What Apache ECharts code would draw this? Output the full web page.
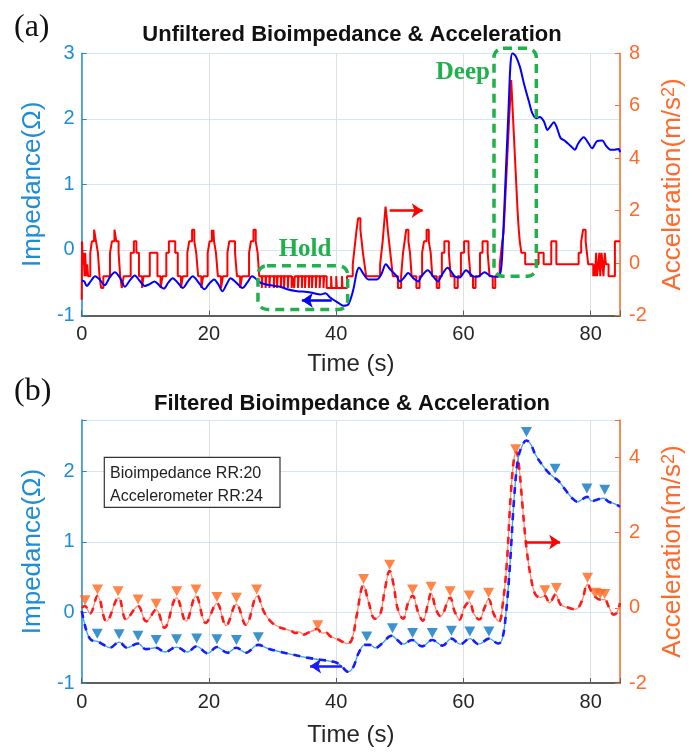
<!DOCTYPE html>
<html>
<head>
<meta charset="utf-8">
<script src="https://cdn.jsdelivr.net/npm/echarts/dist/echarts.min.js"></script>
<style>
  html, body { margin: 0; padding: 0; background: #fff; }
  #main { width: 694px; height: 753px; }
</style>
</head>
<body>
<div id="main"></div>
<script>
// (a) raw signals, [time s, value]
const bioRaw = [
  [0,-0.47],[0.4,-0.48],[0.8,-0.55],[1.4,-0.48],[2.1,-0.40],[2.9,-0.46],[3.6,-0.54],[4.4,-0.42],[5.2,-0.34],
  [6.0,-0.42],[6.8,-0.56],[7.6,-0.46],[8.35,-0.39],[9.1,-0.47],[9.9,-0.55],[10.7,-0.52],[11.45,-0.48],
  [12.2,-0.54],[12.9,-0.59],[13.6,-0.5],[14.3,-0.43],[15.1,-0.5],[15.9,-0.58],[16.7,-0.48],[17.45,-0.40],
  [18.4,-0.5],[19.3,-0.60],[20.0,-0.52],[20.8,-0.45],[21.5,-0.53],[22.1,-0.63],[22.8,-0.52],[23.4,-0.43],
  [24.3,-0.5],[25.3,-0.58],[26.0,-0.5],[26.8,-0.40],[27.5,-0.45],[28.1,-0.50],[29.7,-0.54],[31.2,-0.56],
  [32.3,-0.60],[33.85,-0.63],[35.4,-0.64],[36.5,-0.66],[37.5,-0.68],[38.3,-0.66],[39.1,-0.73],[40.4,-0.81],
  [41.1,-0.85],[41.9,-0.83],[42.7,-0.60],[43.2,-0.35],[43.6,-0.27],[44.3,-0.37],[45.05,-0.45],[46.4,-0.45],
  [47.1,-0.37],[47.8,-0.22],[48.5,-0.30],[49.5,-0.40],[50.0,-0.48],[50.6,-0.43],[51.3,-0.35],[52.1,-0.43],
  [52.9,-0.48],[53.4,-0.40],[54.4,-0.31],[55.2,-0.40],[56.0,-0.48],[56.5,-0.40],[57.5,-0.27],[58.6,-0.40],
  [59.4,-0.42],[60.4,-0.31],[61.45,-0.40],[62.2,-0.41],[63.3,-0.34],[64.3,-0.40],[65.4,-0.41],[65.9,-0.30],
  [66.2,0.16],[66.65,1.17],[67.1,2.19],[67.4,2.85],[67.7,3.0],[68.2,2.96],[68.85,2.8],[69.5,2.54],[70.3,2.26],
  [70.8,2.09],[71.45,2.01],[72.0,2.03],[72.65,1.96],[73.2,1.83],[73.7,1.89],[74.2,1.95],[74.7,1.86],
  [75.25,1.71],[76.0,1.66],[76.8,1.59],[77.5,1.53],[78.0,1.62],[78.9,1.72],[79.7,1.62],[80.2,1.55],
  [81.0,1.66],[81.8,1.67],[82.4,1.59],[83.1,1.53],[83.8,1.53],[84.4,1.54],[84.6,1.49]
];
// accelerometer is quantised: each point = time where the level changes
const accRaw = [
  [0,-1.4],[0.05,0.83],[0.2,-0.05],[0.3,0.39],[0.45,-0.5],[0.55,0.39],[0.7,-0.5],[0.85,-0.05],[1.0,-0.5],
  [1.35,0.39],[1.6,0.83],[1.95,1.27],[2.25,0.83],[2.55,0.39],[2.8,-0.5],[3.05,-0.95],[3.4,-0.5],
  [4.45,0.39],[4.75,0.83],[5.15,1.27],[5.45,0.83],[5.8,0.39],[6.05,-0.5],[6.3,-0.95],[6.6,-0.5],
  [7.7,0.39],[8.2,0.83],[8.6,0.39],[9.0,-0.5],[9.5,-0.95],[9.7,-0.5],
  [10.7,0.39],[11.9,-0.5],[12.4,-0.95],[12.7,-0.5],
  [13.3,0.39],[13.7,0.83],[14.7,0.39],[15.1,-0.5],[15.6,-0.95],[15.9,-0.5],
  [16.6,0.39],[16.9,0.83],[17.35,1.27],[17.7,0.83],[18.0,0.39],[18.3,-0.5],[18.8,-0.95],[19.1,-0.5],
  [19.8,0.39],[20.1,0.83],[20.45,1.27],[20.55,0.83],[20.7,1.27],[20.8,0.83],[21.1,0.39],[21.4,-0.5],[21.9,-0.95],[22.2,-0.5],
  [22.9,0.39],[23.2,0.83],[24.1,0.39],[24.4,-0.5],[24.9,-0.95],[25.2,-0.5],
  [26.3,0.39],[26.6,0.83],[27.0,1.27],[27.35,0.83],[27.65,0.39],[27.9,-0.5],
  [28.3,-0.95],[28.4,-0.5],[28.9,-0.95],[29.0,-0.5],[29.5,-0.95],[29.6,-0.5],[30.2,-0.95],[30.3,-0.5],
  [30.7,-0.95],[30.8,-0.5],[31.3,-0.95],[31.4,-0.5],[31.8,-0.95],[31.9,-0.5],[32.4,-0.95],[32.5,-0.5],
  [33.0,-0.95],[33.1,-0.5],[33.4,-0.95],[33.5,-0.5],[34.0,-0.95],[34.1,-0.5],[34.6,-0.95],[34.7,-0.5],
  [35.1,-0.95],[35.2,-0.5],[35.7,-0.95],[35.8,-0.5],[36.2,-0.95],[36.3,-0.5],[36.8,-0.95],[36.9,-0.5],
  [37.4,-0.95],[37.5,-0.5],[38.0,-0.95],[38.1,-0.5],[38.5,-0.95],[39.2,-0.5],[39.3,-0.95],[40.0,-0.5],
  [40.1,-0.95],[40.9,-0.5],[41.0,-0.95],[41.7,-0.5],
  [42.6,-0.05],[42.8,0.39],[43.0,0.83],[43.2,1.27],[43.45,1.71],[43.8,1.27],[44.0,0.83],[44.2,0.39],[44.45,-0.05],[44.7,-0.5],
  [46.9,-0.05],[47.1,0.39],[47.3,0.83],[47.45,1.27],[47.6,1.71],[47.75,2.15],[47.95,1.71],[48.1,1.27],[48.3,0.83],[48.5,0.39],[48.7,-0.05],[48.9,-0.5],
  [49.7,-0.95],[50.2,-0.5],[50.5,0.39],[50.75,0.83],[51.0,1.27],[51.35,0.83],[51.6,0.39],[51.85,-0.5],
  [52.6,-0.95],[53.1,-0.5],[53.5,0.39],[53.8,0.83],[54.2,1.27],[54.55,0.83],[54.85,0.39],[55.1,-0.5],
  [55.8,-0.95],[56.2,-0.5],[56.6,0.39],[57.0,0.83],[57.7,0.39],[58.0,-0.5],
  [58.6,-0.95],[59.1,-0.5],[59.6,0.39],[60.1,0.83],[60.8,0.39],[61.1,-0.5],
  [61.5,-0.95],[61.9,-0.5],[62.6,0.39],[63.0,0.83],[63.8,0.39],[64.1,-0.5],
  [64.6,-0.95],[65.0,-0.5],
  // deep breath, sampled densely
  [65.7,-0.05],[65.9,0.39],[66.1,0.83],[66.3,1.15],[66.4,1.6],[66.5,2.1],[66.6,2.6],[66.7,3.1],[66.8,3.6],
  [66.9,4.1],[67.0,4.6],[67.1,5.1],[67.2,5.6],[67.3,6.05],[67.4,6.5],[67.5,6.98],[67.6,6.5],[67.7,6.0],
  [67.8,5.5],[67.9,5.0],[68.0,4.5],[68.1,4.0],[68.2,3.5],[68.3,3.0],[68.4,2.5],[68.5,2.0],[68.6,1.6],
  [68.7,1.25],[68.85,0.83],[69.1,0.39],[69.7,-0.05],
  [71.8,0.39],[72.6,-0.05],[73.8,0.83],[74.6,-0.05],
  [78.1,0.39],[78.5,0.83],[78.8,1.27],[79.2,0.83],[79.4,0.39],[79.6,-0.05],
  [80.4,-0.5],[80.55,-0.05],[80.7,-0.5],[80.85,0.39],[81.0,-0.5],[81.2,-0.05],[81.35,0.39],[81.5,-0.5],
  [81.7,0.39],[81.85,-0.05],[82.0,-0.5],[82.2,0.39],[82.4,-0.05],[82.8,-0.5],[83.8,0.83],[84.6,0.83]
];
// (b) filtered signals
const bioFilt = [
  [0,0.02],[0.4,-0.14],[0.9,-0.30],[1.5,-0.39],[2.45,-0.41],[3.3,-0.45],[4.4,-0.50],[5.9,-0.42],[7.1,-0.50],
  [8.85,-0.44],[10.1,-0.52],[11.7,-0.50],[13.1,-0.56],[14.9,-0.49],[16.6,-0.56],[18.05,-0.48],[19.8,-0.58],
  [21.25,-0.49],[22.9,-0.57],[24.3,-0.50],[25.8,-0.57],[27.75,-0.46],[29.2,-0.51],[31.25,-0.56],[33.3,-0.60],
  [35.4,-0.64],[37.5,-0.67],[39.6,-0.70],[40.6,-0.74],[41.9,-0.84],[42.7,-0.77],[43.5,-0.58],[44.5,-0.46],
  [45.3,-0.46],[46.2,-0.50],[47.2,-0.44],[48.7,-0.33],[49.6,-0.39],[50.5,-0.45],[51.9,-0.39],[53.5,-0.48],
  [55.1,-0.39],[56.7,-0.47],[58.1,-0.37],[59.5,-0.45],[61.0,-0.37],[62.4,-0.45],[64.0,-0.37],[65.5,-0.44],
  [66.1,-0.37],[66.65,-0.04],[67.3,0.67],[67.96,1.62],[68.6,2.19],[69.3,2.38],[69.9,2.44],[70.6,2.38],
  [71.3,2.24],[72.4,2.09],[73.4,1.98],[74.3,1.91],[75.0,1.86],[76.0,1.74],[77.1,1.62],[77.9,1.57],
  [78.6,1.60],[79.4,1.64],[80.2,1.58],[81.0,1.60],[82.0,1.62],[82.8,1.57],[83.8,1.54],[84.6,1.50]
];
const accFilt = [
  [0,0.0],[0.5,0.05],[1.3,-0.15],[2.5,0.32],[3.9,-0.36],[5.8,0.27],[7.0,-0.31],[8.85,0.05],[10.15,-0.36],
  [11.7,-0.05],[13.0,-0.53],[14.9,0.27],[16.4,-0.36],[17.96,0.32],[19.5,-0.40],[21.25,0.12],[22.7,-0.47],
  [24.3,0.10],[25.8,-0.45],[27.6,0.32],[28.6,-0.09],[29.7,-0.36],[31.0,-0.51],[32.3,-0.58],[33.0,-0.62],
  [33.6,-0.67],[34.2,-0.64],[34.9,-0.71],[35.6,-0.66],[36.2,-0.62],[37.0,-0.56],[37.8,-0.67],[38.4,-0.66],
  [39.1,-0.76],[40.4,-0.85],[41.7,-0.95],[42.45,-0.85],[43.2,-0.22],[44.3,0.60],[45.05,0.18],[46.1,-0.29],
  [46.9,-0.18],[47.65,0.49],[48.4,0.98],[48.95,0.67],[49.7,-0.05],[50.5,-0.29],[51.3,0.13],[52.0,0.32],
  [52.9,-0.13],[53.6,-0.34],[54.4,0.09],[54.9,0.39],[55.7,-0.05],[56.4,-0.22],[57.9,0.27],[58.6,-0.09],
  [59.4,-0.31],[60.1,0.0],[60.9,0.16],[61.7,-0.18],[62.5,-0.31],[63.3,0.0],[63.95,0.23],[64.8,-0.18],
  [65.6,-0.36],[66.1,0.0],[66.8,1.16],[67.4,2.93],[67.96,4.0],[68.3,4.15],[68.75,3.73],[69.3,2.67],
  [69.9,1.6],[70.6,0.8],[71.3,0.36],[72.1,0.28],[72.8,0.32],[73.5,0.13],[74.5,0.36],[75.25,0.09],
  [76.55,0.0],[77.6,-0.04],[78.6,0.18],[79.5,0.63],[80.1,0.44],[80.8,0.28],[81.5,0.22],[82.2,0.22],
  [82.8,0.04],[83.6,-0.18],[84.1,-0.13],[84.6,0.13]
];
// detected breaths (marker positions)
const bioPeaks = [
  [2.44,-0.30],[5.88,-0.31],[8.85,-0.33],[11.7,-0.39],[14.9,-0.38],[18.07,-0.37],[21.25,-0.38],[24.32,-0.39],
  [27.75,-0.35],[44.8,-0.34],[48.85,-0.225],[52.0,-0.29],[55.1,-0.29],[58.1,-0.26],[61.0,-0.27],[64.0,-0.27],
  [69.9,2.56],[74.4,2.04],[79.4,1.76],[82.2,1.74]
];
const accPeaks = [
  [0.52,0.20],[2.49,0.49],[5.72,0.44],[8.85,0.22],[11.7,0.11],[14.94,0.44],[17.96,0.49],[21.25,0.29],
  [24.32,0.27],[27.5,0.49],[37.1,-0.46],[44.3,0.77],[48.4,1.15],[52.0,0.49],[54.9,0.56],[57.9,0.44],
  [60.9,0.33],[63.95,0.40],[68.2,4.22],[72.8,0.47],[74.6,0.53],[79.5,0.80],[80.8,0.40],[81.5,0.37],[82.2,0.37]
];
// annotations (time, acceleration)
const holdBox = [27.7, -0.10, 41.8, -1.77];
const deepBox = [64.8, 8.19, 71.45, -0.50];

const xMax = 84.6;
const blueAx = '#1f8dd6';
const orangeAx = '#ff6a2b';
const green = '#21b04b';
const font = 'Liberation Sans, Arial, sans-serif';

const chart = echarts.init(document.getElementById('main'));

function xAxisCfg(gi, gap) {
  return {
    type: 'value', gridIndex: gi, min: 0, max: xMax, interval: 20,
    name: 'Time (s)', nameLocation: 'middle', nameGap: gap,
    nameTextStyle: { fontSize: 24, color: '#262626', fontFamily: font },
    axisLine: { onZero: false, lineStyle: { color: '#5e5e5e', width: 2 } },
    axisTick: { inside: true, length: 5, lineStyle: { color: '#5e5e5e' } },
    axisLabel: {
      fontSize: 20, color: '#262626', fontFamily: font, margin: 9,
      formatter: v => (v % 20 === 0 ? String(v) : '')
    },
    splitLine: { show: true, lineStyle: { color: '#dcdfe3', width: 1 } }
  };
}

function yLeft(gi, max) {
  return {
    type: 'value', gridIndex: gi, position: 'left', min: -1, max: max, interval: 1,
    name: 'Impedance(Ω)', nameLocation: 'middle', nameGap: 32,
    nameTextStyle: { fontSize: 26, color: blueAx, fontFamily: font },
    axisLine: { show: true, onZero: false, lineStyle: { color: blueAx, width: 1.5 } },
    axisTick: { show: true, inside: true, length: 5, lineStyle: { color: blueAx } },
    axisLabel: {
      fontSize: 20, color: blueAx, fontFamily: font, margin: 7,
      formatter: v => (Number.isInteger(v) ? String(v) : '')
    },
    splitLine: { show: true, lineStyle: { color: '#d3e6f5', width: 1 } }
  };
}

function yRight(gi, max) {
  return {
    type: 'value', gridIndex: gi, position: 'right', min: -2, max: max, interval: 2,
    name: 'Acceleration(m/s{sup|2})', nameLocation: 'middle', nameGap: 40,
    nameTextStyle: {
      fontSize: 26, color: orangeAx, fontFamily: font,
      rich: { sup: { fontSize: 18, color: orangeAx, fontFamily: font, verticalAlign: 'top' } }
    },
    axisLine: { show: true, onZero: false, lineStyle: { color: orangeAx, width: 1.5 } },
    axisTick: { show: true, inside: true, length: 5, lineStyle: { color: orangeAx } },
    axisLabel: {
      fontSize: 20, color: orangeAx, fontFamily: font, margin: 9,
      formatter: v => (v % 2 === 0 ? String(v) : '')
    },
    splitLine: { show: false }
  };
}

function arrow(color, from, to) {
  return {
    silent: true, symbol: ['none', 'arrow'], symbolSize: 11,
    label: { show: false },
    lineStyle: { color: color, width: 2.5, type: 'solid' },
    data: [[{ coord: from }, { coord: to }]]
  };
}

const option = {
  animation: false,
  backgroundColor: '#fff',
  grid: [
    { left: 81.7, top: 53.3, width: 541.3, height: 262.2 },
    { left: 81.7, top: 420, width: 541.3, height: 263 }
  ],
  xAxis: [xAxisCfg(0, 37), xAxisCfg(1, 40)],
  yAxis: [yLeft(0, 3), yRight(0, 8), yLeft(1, 2.73), yRight(1, 5)],
  series: [
    {
      name: 'acc raw', type: 'line', xAxisIndex: 0, yAxisIndex: 1, data: accRaw,
      step: 'end', showSymbol: false, z: 2,
      lineStyle: { color: '#ff0000', width: 2 },
      markLine: arrow('#ff0000', [48.4, 2.0], [53.6, 2.0])
    },
    {
      name: 'bio raw', type: 'line', xAxisIndex: 0, yAxisIndex: 0, data: bioRaw,
      smooth: 0.3, showSymbol: false, z: 3,
      lineStyle: { color: '#0000ff', width: 2 },
      markLine: arrow('#0000ff', [39.3, -0.77], [34.6, -0.77])
    },
    {
      name: 'acc filt', type: 'line', xAxisIndex: 1, yAxisIndex: 3, data: accFilt,
      smooth: 0.4, showSymbol: false, z: 2,
      lineStyle: { color: '#ff8c73', width: 1.3 }
    },
    {
      name: 'acc filt dash', type: 'line', xAxisIndex: 1, yAxisIndex: 3, data: accFilt,
      smooth: 0.4, showSymbol: false, z: 2,
      lineStyle: { color: '#ff1a1a', width: 2.6, type: [7, 6] },
      markLine: arrow('#ff0000', [69.7, 1.75], [75.2, 1.75])
    },
    {
      name: 'bio filt', type: 'line', xAxisIndex: 1, yAxisIndex: 2, data: bioFilt,
      smooth: 0.4, showSymbol: false, z: 3,
      lineStyle: { color: '#36a7e6', width: 1.3 }
    },
    {
      name: 'bio filt dash', type: 'line', xAxisIndex: 1, yAxisIndex: 2, data: bioFilt,
      smooth: 0.4, showSymbol: false, z: 3,
      lineStyle: { color: '#1a1aff', width: 2.6, type: [7, 6] },
      markLine: arrow('#1a1aff', [40.9, -0.76], [35.9, -0.76])
    },
    {
      name: 'acc peaks', type: 'scatter', xAxisIndex: 1, yAxisIndex: 3, data: accPeaks,
      symbol: 'triangle', symbolRotate: 180, symbolSize: [11, 10], z: 4,
      itemStyle: { color: '#ff661a' }
    },
    {
      name: 'bio peaks', type: 'scatter', xAxisIndex: 1, yAxisIndex: 2, data: bioPeaks,
      symbol: 'triangle', symbolRotate: 180, symbolSize: [11, 10], z: 4,
      itemStyle: { color: '#0a78c2' }
    }
  ]
};
chart.setOption(option);

// dashed rounded boxes placed through the top plot's acceleration axis
function box(b) {
  const p1 = chart.convertToPixel({ xAxisIndex: 0, yAxisIndex: 1 }, [b[0], b[1]]);
  const p2 = chart.convertToPixel({ xAxisIndex: 0, yAxisIndex: 1 }, [b[2], b[3]]);
  return {
    type: 'rect', z: 10, silent: true,
    shape: { x: p1[0], y: p1[1], width: p2[0] - p1[0], height: p2[1] - p1[1], r: 9 },
    style: { fill: 'none', stroke: green, lineWidth: 3.5, lineDash: [9, 6] }
  };
}
function label(text, t, v, size) {
  const p = chart.convertToPixel({ xAxisIndex: 0, yAxisIndex: 1 }, [t, v]);
  return {
    type: 'text', z: 10, silent: true, x: p[0], y: p[1],
    style: {
      text: text, fill: green, align: 'center', verticalAlign: 'middle',
      font: 'bold ' + size + 'px "Liberation Serif", "Times New Roman", serif'
    }
  };
}

chart.setOption({
  graphic: [
    box(holdBox), box(deepBox),
    label('Hold', 35.1, 0.52, 25), label('Deep', 59.9, 7.25, 25),
    {
      type: 'text', x: 352, y: 35, silent: true,
      style: { text: 'Unfiltered Bioimpedance & Acceleration', fill: '#111', align: 'center', verticalAlign: 'middle',
        font: 'bold 22px "Liberation Sans", Arial, sans-serif' }
    },
    {
      type: 'text', x: 352, y: 404, silent: true,
      style: { text: 'Filtered Bioimpedance & Acceleration', fill: '#111', align: 'center', verticalAlign: 'middle',
        font: 'bold 22px "Liberation Sans", Arial, sans-serif' }
    },
    {
      type: 'text', x: 14, y: 28, silent: true,
      style: { text: '(a)', fill: '#111', verticalAlign: 'middle', font: '32px "Liberation Serif", "Times New Roman", serif' }
    },
    {
      type: 'text', x: 14, y: 392, silent: true,
      style: { text: '(b)', fill: '#111', verticalAlign: 'middle', font: '32px "Liberation Serif", "Times New Roman", serif' }
    },
    {
      type: 'rect', x: 104.3, y: 457.3, silent: true, z: 10,
      shape: { width: 175.7, height: 50 },
      style: { fill: '#fff', stroke: '#333', lineWidth: 1.2 }
    },
    {
      type: 'text', x: 110, y: 473.3, silent: true, z: 11,
      style: { text: 'Bioimpedance RR:20', fill: '#222', verticalAlign: 'middle', font: '16px "Liberation Sans", Arial, sans-serif' }
    },
    {
      type: 'text', x: 110, y: 496.7, silent: true, z: 11,
      style: { text: 'Accelerometer RR:24', fill: '#222', verticalAlign: 'middle', font: '16px "Liberation Sans", Arial, sans-serif' }
    }
  ]
});
</script>
</body>
</html>
